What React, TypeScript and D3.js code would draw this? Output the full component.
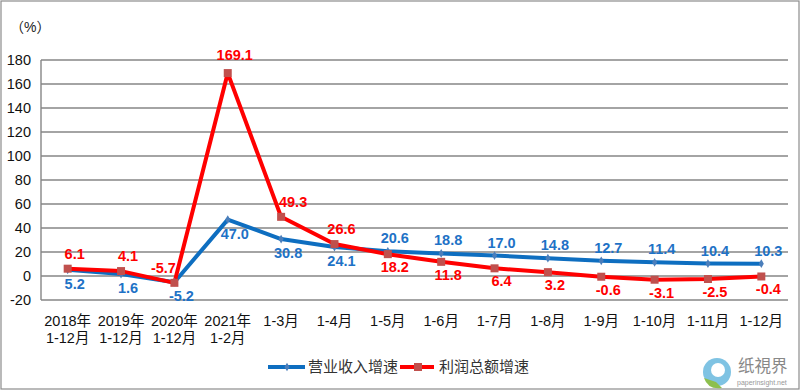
import * as d3 from 'd3'

const W = 800
const H = 391
const margin = { top: 60, right: 12, bottom: 91, left: 41 }

const catLine1 = ['2018年', '2019年', '2020年', '2021年', '1-3月', '1-4月', '1-5月', '1-6月', '1-7月', '1-8月', '1-9月', '1-10月', '1-11月', '1-12月']
const catLine2 = ['1-12月', '1-12月', '1-12月', '1-2月', '', '', '', '', '', '', '', '', '', '']
const revenue = [5.2, 1.6, -5.2, 47.0, 30.8, 24.1, 20.6, 18.8, 17.0, 14.8, 12.7, 11.4, 10.4, 10.3]
const profit = [6.1, 4.1, -5.7, 169.1, 49.3, 26.6, 18.2, 11.8, 6.4, 3.2, -0.6, -3.1, -2.5, -0.4]
const yTicks = [-20, 0, 20, 40, 60, 80, 100, 120, 140, 160, 180]

const BLUE = '#0E6EC0'
const RED = '#FF0000'
const FONT = '"Liberation Sans", "Noto Sans CJK SC", sans-serif'

export default function App() {
  const x = d3
    .scaleBand<number>()
    .domain(d3.range(catLine1.length))
    .range([margin.left, W - margin.right])
  const y = d3.scaleLinear().domain([-20, 180]).range([H - margin.bottom, margin.top])
  const cx = (i: number) => (x(i) as number) + x.bandwidth() / 2

  const line = d3
    .line<number>()
    .x((_, i) => cx(i))
    .y((d) => y(d))

  // revenue labels sit under the point for the first six, above for the rest
  const revLabelY = (d: number, i: number) => (i < 6 ? y(d) + 19 : y(d) - 8)
  const profLabelY = (d: number, i: number) => (i === 3 ? y(d) - 13 : i < 6 ? y(d) - 10 : y(d) + 18)
  const profLabelDx = (i: number) => (i === 2 ? -11 : i === 4 ? 12 : 7)

  return (
    <svg
      width={W}
      height={H}
      style={{ position: 'absolute', left: 0, top: 0, background: '#fff' }}
      fontFamily={FONT}
    >
      <rect x={1} y={1} width={W - 2} height={H - 3} fill="#fff" stroke="#8c8c8c" strokeWidth={1.2} />

      <text x={10} y={32} fontSize={14} fill="#222">（%）</text>

      {yTicks.map((t) => (
        <g key={t}>
          <line x1={margin.left} x2={W - margin.right} y1={y(t)} y2={y(t)} stroke="#868686" strokeWidth={1.4} />
          <text x={31} y={y(t)} dy="0.35em" textAnchor="end" fontSize={14.5} fill="#111">
            {t}
          </text>
        </g>
      ))}
      <line x1={margin.left} x2={margin.left} y1={y(180)} y2={y(-20)} stroke="#868686" strokeWidth={1.4} />

      {catLine1.map((c, i) => (
        <text key={i} textAnchor="middle" fontSize={14.5} fill="#111">
          <tspan x={cx(i)} y={326}>{c}</tspan>
          <tspan x={cx(i)} y={343}>{catLine2[i]}</tspan>
        </text>
      ))}

      <path d={line(revenue) as string} fill="none" stroke={BLUE} strokeWidth={4} strokeLinejoin="round" />
      <path d={line(profit) as string} fill="none" stroke={RED} strokeWidth={4} strokeLinejoin="round" />

      {revenue.map((d, i) => (
        <path key={i} d={d3.symbol(d3.symbolDiamond, 22)() as string} transform={`translate(${cx(i)},${y(d)})`} fill="#4A7EBB" />
      ))}
      {profit.map((d, i) => (
        <rect key={i} x={cx(i) - 4} y={y(d) - 4} width={8} height={8} fill="#C0504D" />
      ))}

      {revenue.map((d, i) => (
        <text key={i} x={cx(i) + 7} y={revLabelY(d, i)} textAnchor="middle" fontSize={14.5} fontWeight="bold" fill="#1E72C6">
          {d.toFixed(1)}
        </text>
      ))}
      {profit.map((d, i) => (
        <text key={i} x={cx(i) + profLabelDx(i)} y={profLabelY(d, i)} textAnchor="middle" fontSize={14.5} fontWeight="bold" fill={RED}>
          {d.toFixed(1)}
        </text>
      ))}

      <g>
        <line x1={268} x2={305} y1={367} y2={367} stroke={BLUE} strokeWidth={4} />
        <path d={d3.symbol(d3.symbolDiamond, 22)() as string} transform="translate(287,367)" fill="#4A7EBB" />
        <text x={308} y={367} dy="0.35em" fontSize={15} fill="#333">营业收入增速</text>
        <line x1={400} x2={434} y1={367} y2={367} stroke={RED} strokeWidth={4} />
        <rect x={414} y={363} width={8} height={8} fill="#C0504D" />
        <text x={439} y={367} dy="0.35em" fontSize={15} fill="#333">利润总额增速</text>
      </g>

      <g>
        <circle cx={717} cy={372} r={14} fill="#7FC3E3" />
        <circle cx={718} cy={370} r={7} fill="#fff" />
        <path d="M 704 378 Q 708 390 722 388 L 716 382 Z" fill="#8DBF4E" />
        <text x={738} y={372} fontSize={16.5} fill="#888" fontFamily='"Noto Sans CJK TC", sans-serif'>纸視界</text>
        <text x={737} y={385} fontSize={7} fill="#999">paperinsight.net</text>
      </g>
    </svg>
  )
}
